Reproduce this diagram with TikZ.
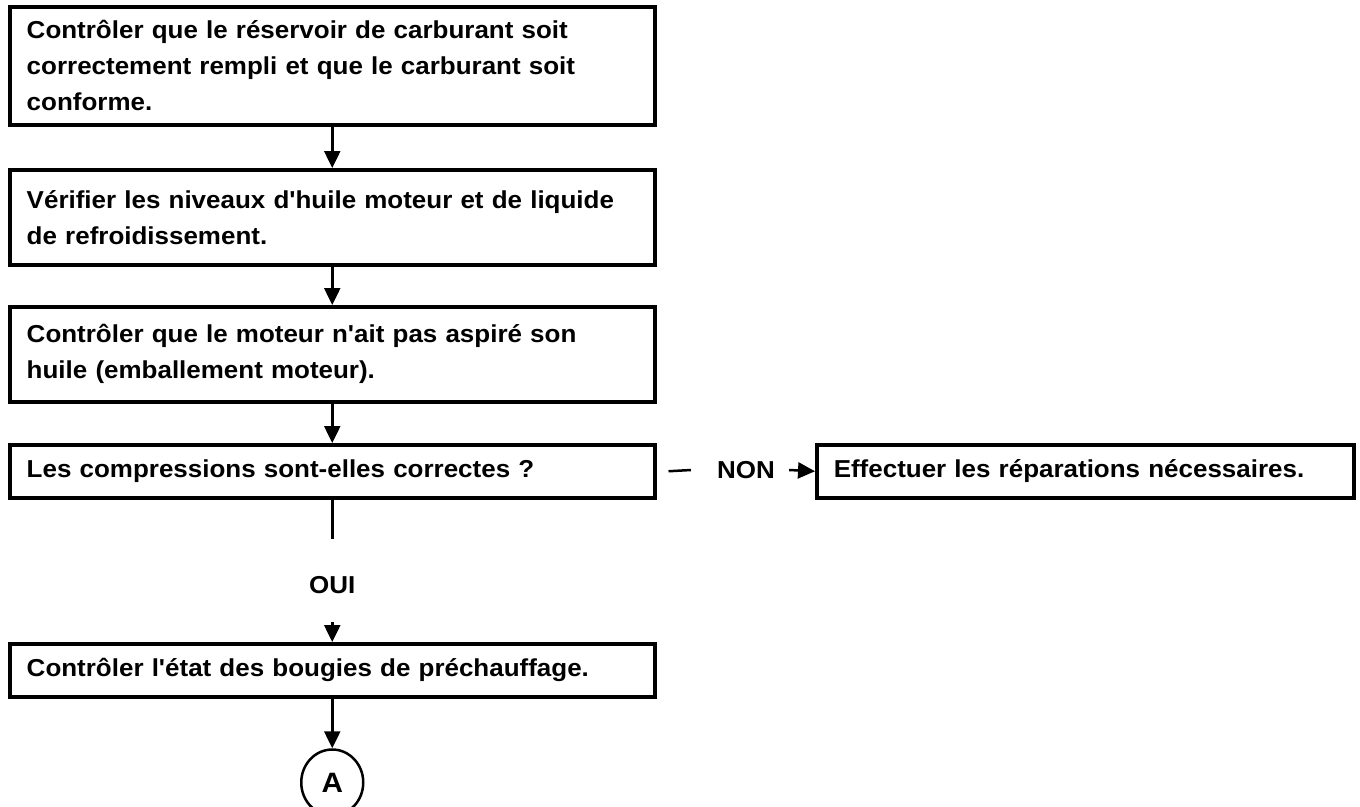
\documentclass[tikz,border=0pt]{standalone}
\usepackage{fontspec}
% plain family (no TeX ligature mapping, so ' stays straight)
\newfontfamily\arialish[FakeStretch=1.06]{Liberation Sans}
\usetikzlibrary{arrows.meta,shapes.geometric,calc}
\begin{document}
\begin{tikzpicture}[x=1pt,y=-1pt,
  stepbox/.style={draw, line width=3.5pt, anchor=north west, align=left,
    inner xsep=17pt, inner ysep=0pt,
    font=\arialish\bfseries\fontsize{24.5}{36}\selectfont},
  wide/.style={text width=611pt},
  flow/.style={line width=2.5pt, -{Triangle[width=16pt,length=17pt]}},
  plain/.style={line width=2.5pt},
  lbl/.style={inner sep=0pt, font=\arialish\bfseries\fontsize{24.5}{28}\selectfont}]
\useasboundingbox (0,0) rectangle (1360,806);

\node[stepbox, wide, minimum height=118pt] (b1) at (8,5)
  {Contrôler que le réservoir de carburant soit\\correctement rempli et que le carburant soit\\conforme.};
\node[stepbox, wide, minimum height=95pt] (b2) at (8,168)
  {Vérifier les niveaux d'huile moteur et de liquide\\de refroidissement.};
\node[stepbox, wide, minimum height=95pt] (b3) at (8,305)
  {Contrôler que le moteur n'ait pas aspiré son\\huile (emballement moteur).};
\node[stepbox, wide, minimum height=53pt] (b4) at (8,443)
  {Les compressions sont-elles correctes ?};
\node[stepbox, text width=503pt, minimum height=53pt] (b5) at (815,443)
  {Effectuer les réparations nécessaires.};
\node[stepbox, wide, minimum height=53pt] (b6) at (8,642)
  {Contrôler l'état des bougies de préchauffage.};

\node[lbl] (non) at (746,470) {NON};
\node[lbl] (oui) at ($(b4.south)+(0,86)$) {OUI};
\node[draw, ellipse, line width=2.5pt, minimum width=62pt, minimum height=66pt,
  font=\arialish\bfseries\fontsize{28}{30}\selectfont] (a) at ($(b6.south)+(0,84)$) {A};

\draw[flow] (b1.south) -- (b2.north);
\draw[flow] (b2.south) -- (b3.north);
\draw[flow] (b3.south) -- (b4.north);
\draw[plain] ([xshift=12pt]b4.east) -- ([xshift=-26pt]non.west);
\draw[flow] ([xshift=14pt]non.east) -- (b5.west);
\draw[plain] (b4.south) -- ([yshift=38pt]oui.north);
\draw[flow] ([yshift=-28pt]oui.south) -- (b6.north);
\draw[flow] (b6.south) -- (a.north);
\end{tikzpicture}
\end{document}
